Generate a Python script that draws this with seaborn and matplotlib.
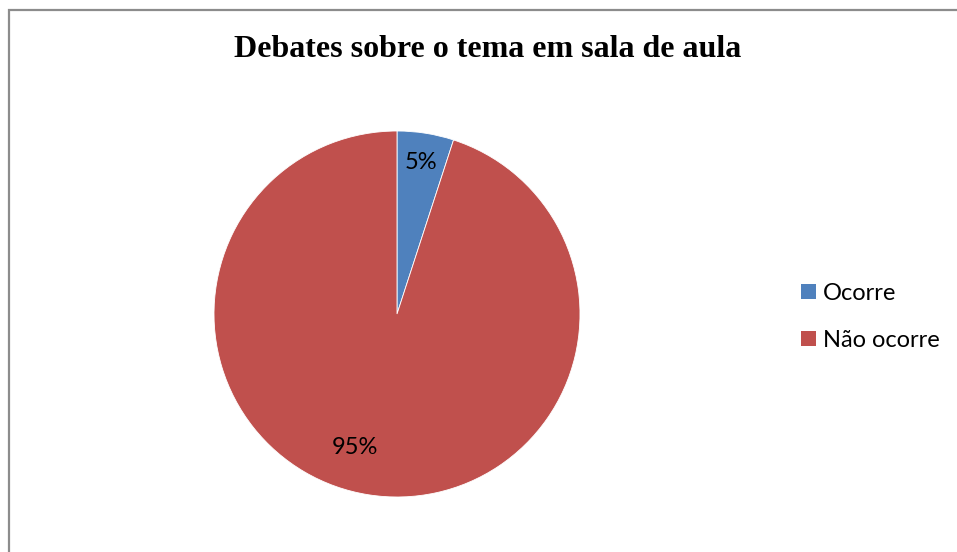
import matplotlib
matplotlib.use("Agg")
import matplotlib.pyplot as plt
import matplotlib.patches as mpatches
import seaborn as sns

sns.set_theme(style="white")
plt.rcParams["font.family"] = ["Lato", "DejaVu Sans"]
plt.rcParams["text.color"] = "black"

# Survey result: are debates on the topic held in the classroom?
categories = ["Ocorre", "Não ocorre"]
shares = [5, 95]
slice_colors = ["#4F81BD", "#C0504D"]
title = "Debates sobre o tema em sala de aula"

W, H = 957, 552
fig = plt.figure(figsize=(W / 100, H / 100), dpi=100)
fig.patch.set_facecolor("white")

# Pie axes: centre (397, 314) px, radius 183 px
cx, cy, r = 397, 314, 183
ax = fig.add_axes([(cx - r) / W, (H - cy - r) / H, 2 * r / W, 2 * r / H])

wedges, texts, autotexts = ax.pie(
    shares,
    colors=slice_colors,
    startangle=90,
    counterclock=False,
    autopct=lambda p: f"{p:.0f}%",
    pctdistance=0.84,
    wedgeprops=dict(edgecolor="white", linewidth=0.6),
    textprops=dict(fontsize=17, color="black"),
)
# best-fit placement of the large slice's label
autotexts[1].set_position((-0.23, -0.73))
ax.set_xlim(-1, 1)
ax.set_ylim(-1, 1)
ax.axis("off")

fig.text(488 / W, 1 - 49 / H, title, ha="center", va="center", color="black",
         fontsize=23, fontweight="bold", family=["Liberation Serif", "DejaVu Serif"])

handles = [mpatches.Patch(facecolor=c, edgecolor="none", label=l)
           for c, l in zip(slice_colors, categories)]
fig.legend(handles=handles, loc="center left",
           bbox_to_anchor=(792 / W, 1 - 317 / H),
           frameon=False, fontsize=17, handlelength=0.6, handleheight=0.6,
           handletextpad=0.3, labelspacing=1.1, borderaxespad=0,
           labelcolor="black")

# outer chart frame (right and bottom edges fall outside the canvas)
frame = mpatches.Rectangle((9 / W, -0.1), 1.2, 1 - 10 / H + 0.1,
                           transform=fig.transFigure, fill=False,
                           edgecolor="#8c8c8c", linewidth=1.6)
fig.patches.append(frame)

fig.savefig("out.png", dpi=100, facecolor="white")
